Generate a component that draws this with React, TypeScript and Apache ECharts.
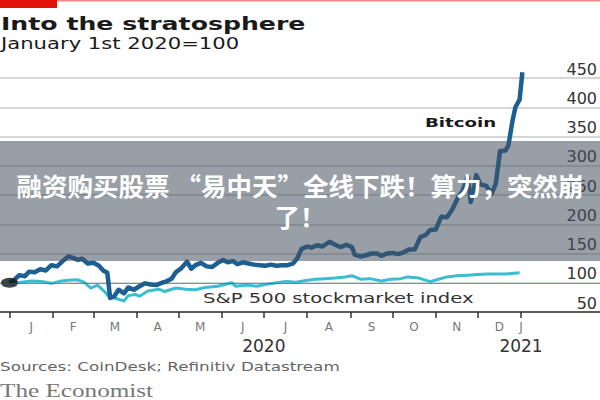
import React, { useEffect, useRef } from "react";
import * as echarts from "echarts";

// ---------- data ----------
const btcDates = [
  "2020-01-01","2020-01-04","2020-01-08","2020-01-12","2020-01-15","2020-01-19","2020-01-23","2020-01-27","2020-01-31",
  "2020-02-04","2020-02-08","2020-02-12","2020-02-15","2020-02-19","2020-02-22","2020-02-26","2020-03-01","2020-03-05",
  "2020-03-08","2020-03-11","2020-03-13","2020-03-16","2020-03-19","2020-03-23","2020-03-26","2020-03-30","2020-04-03",
  "2020-04-07","2020-04-11","2020-04-15","2020-04-19","2020-04-22","2020-04-26","2020-04-29","2020-05-03","2020-05-07",
  "2020-05-10","2020-05-13","2020-05-17","2020-05-21","2020-05-25","2020-05-29","2020-06-02","2020-06-05","2020-06-09",
  "2020-06-12","2020-06-16","2020-06-20","2020-06-24","2020-06-28","2020-07-02","2020-07-06","2020-07-10","2020-07-14",
  "2020-07-18","2020-07-22","2020-07-25","2020-07-28","2020-08-01","2020-08-04","2020-08-08","2020-08-12","2020-08-17",
  "2020-08-21","2020-08-25","2020-08-29","2020-09-02","2020-09-04","2020-09-08","2020-09-12","2020-09-16","2020-09-20",
  "2020-09-23","2020-09-27","2020-10-01","2020-10-05","2020-10-09","2020-10-13","2020-10-17","2020-10-21","2020-10-25",
  "2020-10-28","2020-11-01","2020-11-05","2020-11-09","2020-11-13","2020-11-17","2020-11-20","2020-11-24","2020-11-26",
  "2020-11-28","2020-11-30","2020-12-03","2020-12-07","2020-12-11","2020-12-14","2020-12-17","2020-12-21","2020-12-23",
  "2020-12-26","2020-12-28","2020-12-31","2021-01-02",
];
const btcValues = [
  100,104,113,111,119,118,123,121,130,
  128,137,145,143,139,141,133,134,129,
  121,117,74,77,88,82,92,88,94,
  99,97,96,100,102,107,118,125,136,
  124,130,134,128,127,134,139,135,137,
  132,135,133,131,130,129,131,129,130,
  130,133,142,158,162,160,164,162,170,
  165,161,165,161,148,145,147,150,150,
  146,150,151,149,152,157,157,178,182,
  190,191,213,212,226,246,256,282,238,
  256,284,268,266,252,270,325,326,335,
  378,400,413,460,
];

const spxDates = [
  "2020-01-01","2020-01-08","2020-01-17","2020-01-24","2020-01-31","2020-02-07","2020-02-14","2020-02-19","2020-02-24",
  "2020-02-28","2020-03-04","2020-03-09","2020-03-12","2020-03-16","2020-03-20","2020-03-23","2020-03-26","2020-03-31",
  "2020-04-03","2020-04-09","2020-04-17","2020-04-21","2020-04-29","2020-05-06","2020-05-13","2020-05-20","2020-05-29",
  "2020-06-08","2020-06-11","2020-06-19","2020-06-26","2020-07-02","2020-07-10","2020-07-17","2020-07-24","2020-07-31",
  "2020-08-07","2020-08-14","2020-08-21","2020-08-28","2020-09-02","2020-09-08","2020-09-15","2020-09-23","2020-09-30",
  "2020-10-07","2020-10-12","2020-10-20","2020-10-28","2020-11-03","2020-11-09","2020-11-16","2020-11-24","2020-12-01",
  "2020-12-08","2020-12-15","2020-12-21","2020-12-31",
];
const spxValues = [
  100,100.5,103,102,99,103,104.5,105,100,
  91,96,85,77,74,71,69,78,80,
  77,86,89,85,91,89,88,92,94,
  100,94,96,94,97,100,102,101,104,
  106,107,108,110,112,106,107,103,106,
  107,110,108,102,106,110,112,113,114,
  115,115,115,117,
];

const monthLetters = ["J","F","M","A","M","J","J","A","S","O","N","D"];
const monthStartDates = [
  "2020-01-01","2020-02-01","2020-03-01","2020-04-01","2020-05-01","2020-06-01","2020-07-01",
  "2020-08-01","2020-09-01","2020-10-01","2020-11-01","2020-12-01","2021-01-01",
];
const yearLabels = ["2020", "2021"];
const yTicks = [50, 100, 150, 200, 250, 300, 350, 400, 450];

// ---------- helpers ----------
const ORIGIN = Date.UTC(2020, 0, 1);
const dayOf = (s: string) => {
  const [y, m, d] = s.split("-").map(Number);
  return (Date.UTC(y, m - 1, d) - ORIGIN) / 86400000;
};
const PX_PER_DAY = 511.5 / 366;
const X_MIN = -9.5 / PX_PER_DAY;
const X_MAX = X_MIN + 600 / PX_PER_DAY;

const monthStarts = monthStartDates.map(dayOf);
const monthMids = monthStarts.slice(0, 12).map((s, i) => (s + monthStarts[i + 1]) / 2);
const labelValues = [...monthMids, monthStarts[12]];
const labelTexts = [...monthLetters, "J"];
const yearValues = [monthStarts[6], monthStarts[12]];

const btcData = btcDates.map((d, i) => [dayOf(d), btcValues[i]]);
const spxData = spxDates.map((d, i) => [dayOf(d), spxValues[i]]);

const SANS = "DejaVu Sans";

export default function App() {
  const ref = useRef<HTMLDivElement>(null);
  useEffect(() => {
    if (!ref.current) return;
    const chart = echarts.init(ref.current, undefined, { renderer: "svg" });
    const option: any = {
      animation: false,
      backgroundColor: "#ffffff",
      grid: { left: 0, right: 0, top: 78, bottom: 88, outerBoundsMode: "none" },
      xAxis: [
        {
          type: "value",
          min: X_MIN,
          max: X_MAX,
          axisLine: { show: true, onZero: false, lineStyle: { color: "#333", width: 1.5 } },
          axisTick: { show: true, length: 6, customValues: monthStarts, lineStyle: { color: "#333", width: 1.5 } },
          axisLabel: {
            customValues: labelValues,
            formatter: (v: number) => {
              const i = labelValues.findIndex((x) => Math.abs(x - v) < 0.01);
              return i >= 0 ? labelTexts[i] : "";
            },
            hideOverlap: false,
            fontSize: 12,
            color: "#777",
            fontFamily: SANS,
            margin: 9,
          },
          splitLine: { show: false },
        },
        {
          type: "value",
          min: X_MIN,
          max: X_MAX,
          position: "bottom",
          axisLine: { show: false },
          axisTick: { show: false },
          splitLine: { show: false },
          axisLabel: {
            customValues: yearValues,
            formatter: (v: number) => (Math.abs(v - yearValues[0]) < 0.01 ? yearLabels[0] : yearLabels[1]),
            hideOverlap: false,
            fontSize: 17,
            color: "#333",
            fontFamily: SANS,
            margin: 25,
          },
        },
      ],
      yAxis: {
        type: "value",
        position: "right",
        min: yTicks[0],
        max: yTicks[yTicks.length - 1],
        interval: 50,
        axisLine: { show: false },
        axisTick: { show: false },
        axisLabel: {
          inside: true,
          margin: 3,
          verticalAlign: "bottom",
          fontSize: 16,
          color: "#333",
          fontFamily: SANS,
          padding: [0, 0, 1, 0],
        },
        splitLine: { lineStyle: { color: "#c8c8c8", width: 1.5 } },
      },
      series: [
        {
          name: "S&P 500",
          type: "line",
          data: spxData,
          showSymbol: false,
          z: 2,
          lineStyle: { color: "#3bbdd3", width: 3, join: "round" },
          markLine: {
            silent: true,
            symbol: ["none", "none"],
            label: { show: false },
            lineStyle: { color: "#e3120b", width: 1, type: "solid", opacity: 0.55 },
            data: [{ yAxis: 100 }],
          },
        },
        {
          name: "Bitcoin",
          type: "line",
          data: btcData,
          showSymbol: false,
          clip: false,
          z: 3,
          lineStyle: { color: "#1b5f93", width: 4.5, join: "round" },
        },
        {
          type: "scatter",
          data: [[btcData[0][0], btcData[0][1]]],
          symbol: "circle",
          symbolSize: [17, 10],
          itemStyle: { color: "#111" },
          z: 4,
        },
      ],
      graphic: [
        { type: "rect", shape: { x: 0, y: 0, width: 600, height: 1.5 }, style: { fill: "#e3120b", opacity: 0.5 } },
        { type: "rect", shape: { x: 0, y: 0, width: 57, height: 8 }, style: { fill: "#e3120b" } },
        {
          type: "text", x: 1, y: 24, scaleX: 1.4,
          style: { text: "Into the stratosphere", fontFamily: SANS, fontWeight: "bold", fontSize: 18, fill: "#1a1a1a", verticalAlign: "middle" },
        },
        {
          type: "text", x: 1, y: 44, scaleX: 1.41,
          style: { text: "January 1st 2020=100", fontFamily: SANS, fontSize: 15, fill: "#1a1a1a", verticalAlign: "middle" },
        },
        {
          type: "text", x: 425, y: 122, scaleX: 1.4, z: 5,
          style: { text: "Bitcoin", fontFamily: SANS, fontWeight: "bold", fontSize: 13, fill: "#1a1a1a", verticalAlign: "middle" },
        },
        {
          type: "text", x: 203, y: 298, scaleX: 1.4, z: 5,
          style: { text: "S&P 500 stockmarket index", fontFamily: SANS, fontSize: 14, fill: "#333", verticalAlign: "middle" },
        },
        {
          type: "text", x: 0, y: 366, scaleX: 1.4,
          style: { text: "Sources: CoinDesk; Refinitiv Datastream", fontFamily: SANS, fontSize: 12, fill: "#666", verticalAlign: "middle" },
        },
        {
          type: "text", x: 0, y: 391, scaleX: 1.4,
          style: { text: "The Economist", fontFamily: "Liberation Serif", fontSize: 18, fill: "#777", verticalAlign: "middle" },
        },
        { type: "rect", z: 100, shape: { x: 0, y: 141, width: 600, height: 120 }, style: { fill: "rgba(70,80,95,0.55)" } },
        {
          type: "text", z: 101, x: 300, y: 200,
          style: {
            text: "融资购买股票 “易中天”全线下跌！算力，突然崩\n了！",
            fontFamily: "Noto Sans CJK SC", fontWeight: "bold", fontSize: 25.5, lineHeight: 31,
            fill: "#ffffff", align: "center", verticalAlign: "middle",
          },
        },
      ],
    };
    chart.setOption(option);
    return () => chart.dispose();
  }, []);
  return <div ref={ref} style={{ position: "absolute", left: 0, top: 0, width: 600, height: 400 }} />;
}
